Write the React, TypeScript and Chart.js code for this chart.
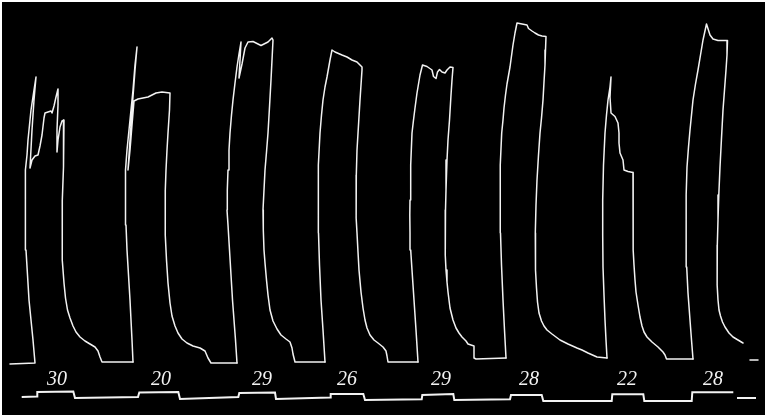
import React, { useEffect, useRef } from "react";
import { Chart, registerables } from "chart.js";

Chart.register(...registerables);

type P = [number, number];

// Kymograph record: x = drum travel, y = pen depth below top of record (axis reversed)
const contraction1: P[] = [
  [10, 364], [35, 363], [33, 340], [31, 320], [29, 300], [27.5, 275], [26, 250], [25.3, 225], [25, 200], [25.3, 185],
  [26, 170], [27, 155], [28, 140], [29.5, 125], [31, 110], [34, 90], [36, 77],
  [34, 100], [32, 130], [30, 168], [32, 160], [35, 156], [38, 155], [40, 146], [42, 135], [44, 118], [45, 113],
  [48, 112], [51, 111], [52, 113], [54, 106], [56, 97], [58, 89], [58, 105], [57, 130], [57, 152], [58, 140],
  [60, 127], [62, 121], [64, 120], [64, 140], [63, 167], [62.3, 200], [62, 233], [62.5, 260], [64, 283], [65.5, 298],
  [67.5, 310], [70, 318], [73, 326], [76, 332], [80, 337], [85, 341], [90, 344], [95, 347], [98, 351], [100, 357],
  [102, 362], [133, 362],
];

const contraction2: P[] = [
  [133, 362], [132, 340], [131, 320], [130, 300], [128.5, 275], [127, 250], [126, 225], [125, 200], [125.5, 185],
  [126, 170], [127, 150], [128.5, 135], [130, 120], [131.5, 105], [133, 90], [135, 65], [137, 47],
  [135, 70], [132, 110], [130, 140], [128, 170], [130, 150], [132, 125], [134, 101], [138, 99], [143, 98],
  [148, 97], [152, 95], [156, 93], [162, 92], [170, 93], [169.5, 110], [168, 133], [167, 150], [166, 170],
  [165.3, 190], [165, 210], [165.5, 235], [166.5, 260], [168, 283], [170, 303], [172, 316], [175, 326], [178, 333],
  [182, 339], [187, 343], [193, 346], [200, 348], [205, 351], [208, 358], [211, 363], [237, 363],
];

const contraction3: P[] = [
  [237, 363], [235.5, 340], [234, 320], [232.5, 300], [231, 275], [229.5, 250], [228, 225], [227, 210], [227.3, 190],
  [228, 170], [229, 150], [230, 133], [231.5, 115], [233, 100], [235, 83], [237, 67], [239, 54], [241, 42],
  [240, 60], [239, 78], [242, 64], [245, 48], [248, 42], [253, 41.5], [258, 44], [261, 45.5], [265, 43.5],
  [268, 42], [272, 38], [273, 40], [272, 60], [271, 80], [269.5, 107], [268, 133], [266.5, 152], [265, 170],
  [264, 190], [263, 210], [263.3, 230], [264, 250], [265, 263], [266.5, 280], [268, 295], [270, 310], [273, 321],
  [277, 329], [281, 335], [286, 339], [290, 342], [292, 348], [293, 354], [295, 362], [325, 362],
];

const contraction4: P[] = [
  [325, 362], [323, 330], [321, 300], [319.5, 265], [318.5, 233], [318, 200], [318.7, 165], [320, 133], [321.5, 115],
  [323, 100], [325, 87], [327, 77], [330, 60], [332, 50],
  [335, 52], [342, 55], [347, 57], [352, 60], [357, 62], [362, 67], [362, 70], [361, 85], [360, 100], [358.5, 125],
  [357, 150], [356.3, 175], [356, 200], [356.3, 218], [357, 233], [358, 252], [359, 270], [361, 292], [363, 308],
  [365, 320], [367, 328], [370, 335], [374, 340], [378, 343], [383, 347], [386, 351], [387, 356], [388, 362], [418, 362],
];

const contraction5: P[] = [
  [418, 362], [416, 330], [414, 300], [412, 270], [410.7, 250], [410, 233], [409.8, 215], [410, 200], [410.7, 165],
  [412, 133], [413.5, 120], [415, 108], [417, 93], [420, 75], [422.5, 65],
  [427, 66.5], [432, 70], [433.5, 76.5], [436, 78.5], [437.5, 72], [439.5, 69.5], [442, 72], [445, 73],
  [447, 70], [450, 67], [453, 67.5], [452, 80], [451, 95], [449.5, 120], [448, 140], [447, 160], [446, 190],
  [445.5, 210], [445, 233], [445.5, 255], [446, 270], [447, 282], [448, 292], [450, 308], [453, 320], [456, 328],
  [459, 333], [462, 337], [466, 341], [468, 344], [474, 346], [474, 358], [476, 359], [506, 358],
];

const contraction6: P[] = [
  [506, 358], [504.5, 330], [503, 300], [501.5, 265], [500.5, 233], [500, 200], [500.5, 165], [501.7, 133], [503, 120],
  [504, 108], [505.5, 95], [507, 84], [510, 67], [513, 45], [515, 33], [517, 23],
  [522, 24], [527, 25], [528.5, 28.5], [532, 31], [535, 33], [538.5, 35], [542, 36], [546, 36.5], [545.5, 50],
  [545, 65], [544, 82], [543, 100], [541.5, 118], [540, 133], [538.5, 155], [537, 180], [536, 205], [535.3, 233],
  [535.3, 255], [535.7, 270], [536.5, 288], [537.5, 302], [539, 313], [541.5, 321], [544, 326], [547, 330],
  [552, 334], [560, 340], [568, 344], [577, 348], [582, 350], [588, 353], [597, 357], [607, 358],
];

const contraction7: P[] = [
  [607, 358], [606, 340], [605, 320], [604, 295], [603, 267], [602.7, 235], [602.7, 200], [603.5, 165], [605, 133],
  [606.5, 115], [608, 100], [610, 87], [611, 77], [610, 97],
  [611, 113], [615, 116.5], [618, 123], [619, 133], [619, 143], [620, 153], [623, 160], [624, 170],
  [628, 171.5], [633, 172.5], [633, 200], [633, 233], [633.5, 250], [634, 265], [635, 280], [636, 292], [638, 305],
  [640, 317], [642, 326], [644, 332], [647, 337], [652, 342], [658, 347], [663, 352], [665, 355], [666.5, 359],
  [693, 359],
];

const contraction8: P[] = [
  [693, 359], [691.5, 340], [690, 320], [688, 293], [686.7, 267], [686.2, 240], [686, 220], [686.3, 195], [687, 167],
  [688.5, 147], [690, 130], [691.5, 115], [693, 100], [695.5, 84], [698, 70], [700.5, 55], [703, 40], [706.5, 24],
  [710, 35], [713, 39], [718, 40.5], [727.5, 40.5], [727, 55], [726, 70], [724.5, 90], [723, 110], [721.5, 138],
  [720, 167], [718.8, 195], [718, 220], [717.3, 245], [717, 267], [717.3, 285], [718, 300], [719, 310],
  [720.5, 316], [722.5, 322], [725, 327], [729, 333], [733, 337], [738, 340], [743, 343],
];

const baselineTail: P[] = [[750, 360], [758, 360]];

// Signal (load) marker line below the record
const signalTrace: P[] = [
  [21.7, 397], [37, 396.5], [37.3, 392], [73.3, 391.5], [75, 398], [138, 397], [139.3, 392.5], [178.3, 392],
  [180, 399], [238.3, 397], [239.3, 393], [275, 392.5], [276, 399], [330, 397.5], [330.7, 394], [363.3, 394],
  [365, 400], [421.7, 399.3], [422.3, 395], [453.3, 394], [454.3, 400], [510, 399.3], [511, 395], [541.7, 395],
  [543.3, 401], [611.7, 401], [612.3, 394.3], [643.3, 394.3], [644.3, 401], [691.7, 401], [692.3, 392.3],
  [733.3, 392.3],
];
const signalTail: P[] = [[737, 398], [756, 398]];

const loadLabels = ["30", "20", "29", "26", "29", "28", "22", "28"];
const labelPositions = [57, 161, 262, 347, 441, 529, 627, 713];
const labelLevel = 385;

const toPts = (a: P[]) => a.map(([x, y]) => ({ x, y }));

export default function App() {
  const ref = useRef<HTMLCanvasElement>(null);

  useEffect(() => {
    document.body.style.margin = "0";
    document.body.style.background = "#ffffff";
    const canvas = ref.current;
    if (!canvas) return;

    const traces = [
      contraction1, contraction2, contraction3, contraction4,
      contraction5, contraction6, contraction7, contraction8, baselineTail,
    ];
    const datasets: any[] = traces.map((t) => ({
      data: toPts(t),
      borderColor: "#f2f2f2",
      borderWidth: 1.5,
      pointRadius: 0,
      showLine: true,
      tension: 0,
      borderJoinStyle: "round",
      borderCapStyle: "round",
    }));
    [signalTrace, signalTail].forEach((t) =>
      datasets.push({
        data: toPts(t),
        borderColor: "#f2f2f2",
        borderWidth: 2,
        pointRadius: 0,
        showLine: true,
        tension: 0,
        borderJoinStyle: "miter",
      })
    );

    const background = {
      id: "recordBackground",
      beforeDraw(chart: any) {
        const { ctx, chartArea: a } = chart;
        ctx.save();
        ctx.fillStyle = "#000000";
        ctx.fillRect(a.left, a.top, a.right - a.left, a.bottom - a.top);
        ctx.restore();
      },
    };

    const loadText = {
      id: "loadText",
      afterDatasetsDraw(chart: any) {
        const { ctx, scales } = chart;
        ctx.save();
        ctx.fillStyle = "#f2f2f2";
        ctx.font = 'italic 20px "Liberation Serif", "DejaVu Serif", serif';
        ctx.textAlign = "center";
        ctx.textBaseline = "alphabetic";
        loadLabels.forEach((lbl, i) => {
          ctx.fillText(lbl, scales.x.getPixelForValue(labelPositions[i]), scales.y.getPixelForValue(labelLevel));
        });
        ctx.restore();
      },
    };

    const chart = new Chart(canvas, {
      type: "scatter",
      data: { datasets },
      options: {
        animation: false,
        responsive: false,
        devicePixelRatio: 1,
        layout: { padding: { left: 2, top: 2, right: 5, bottom: 3 } },
        plugins: { legend: { display: false }, tooltip: { enabled: false } },
        scales: {
          x: { type: "linear", min: 2, max: 765, display: false },
          y: { type: "linear", min: 2, max: 415, reverse: true, display: false },
        },
      },
      plugins: [background, loadText],
    });

    return () => chart.destroy();
  }, []);

  return <canvas ref={ref} width={770} height={418} style={{ display: "block" }} />;
}
